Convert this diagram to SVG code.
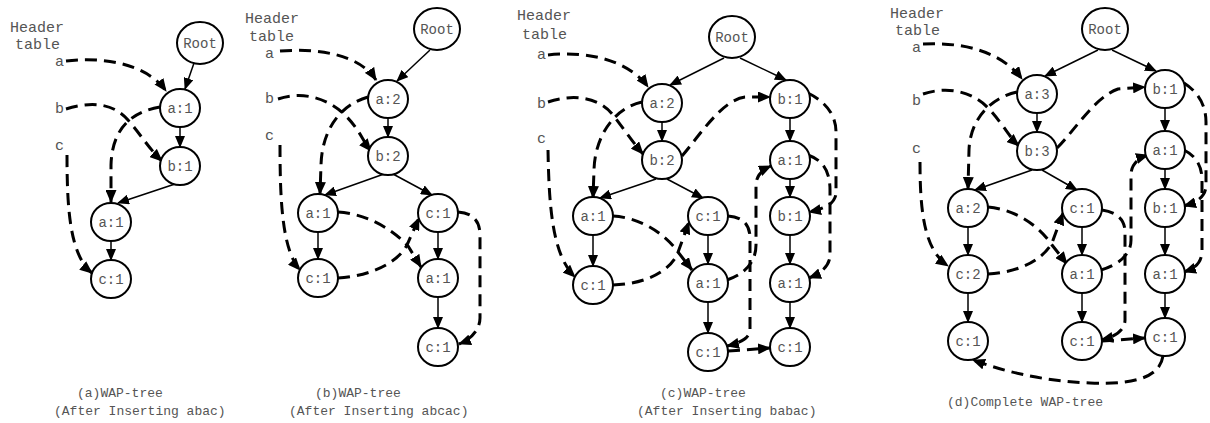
<svg xmlns="http://www.w3.org/2000/svg" width="1210" height="423" viewBox="0 0 1210 423">
<defs>
<marker id="ah" viewBox="0 0 12 10" refX="11" refY="5" markerWidth="12" markerHeight="10" markerUnits="userSpaceOnUse" orient="auto"><path d="M0,0 L12,5 L0,10 Z" fill="#000"/></marker>
<marker id="ahd" viewBox="0 0 13 11" refX="12" refY="5.5" markerWidth="13" markerHeight="11" markerUnits="userSpaceOnUse" orient="auto"><path d="M0,0 L13,5.5 L0,11 Z" fill="#000"/></marker>
</defs>
<style>
.n ellipse{fill:#fff;stroke:#000;stroke-width:2}
.n text{font-family:"Liberation Mono",monospace;font-size:14px;fill:#555;text-anchor:middle}
.t{font-family:"Liberation Mono",monospace;fill:#555}
.h{font-size:15px}
.cap{font-size:13px}
.e{fill:none;stroke:#000;stroke-width:1.5;marker-end:url(#ah)}
.d{fill:none;stroke:#000;stroke-width:3;stroke-dasharray:12 7;marker-end:url(#ahd)}
</style>
<rect width="1210" height="423" fill="#fff"/>

<g id="labels">
<text class="t h" x="10" y="32">Header</text><text class="t h" x="15" y="49">table</text>
<text class="t h" x="55" y="66">a</text><text class="t h" x="55" y="113">b</text><text class="t h" x="55" y="150">c</text>
<text class="t h" x="245" y="23">Header</text><text class="t h" x="249" y="41">table</text>
<text class="t h" x="265" y="58">a</text><text class="t h" x="265" y="103">b</text><text class="t h" x="265" y="140">c</text>
<text class="t h" x="517" y="20">Header</text><text class="t h" x="522" y="39">table</text>
<text class="t h" x="537" y="59">a</text><text class="t h" x="537" y="108">b</text><text class="t h" x="537" y="143">c</text>
<text class="t h" x="890" y="18">Header</text><text class="t h" x="895" y="35">table</text>
<text class="t h" x="912" y="52">a</text><text class="t h" x="912" y="105">b</text><text class="t h" x="912" y="153">c</text>
<text class="t cap" x="77" y="397">(a)WAP-tree</text><text class="t cap" x="54" y="415">(After Inserting abac)</text>
<text class="t cap" x="315" y="397">(b)WAP-tree</text><text class="t cap" x="289" y="415">(After Inserting abcac)</text>
<text class="t cap" x="660" y="397">(c)WAP-tree</text><text class="t cap" x="637" y="415">(After Inserting babac)</text>
<text class="t cap" x="947" y="406">(d)Complete WAP-tree</text>
</g>

<g id="connectors">
<!-- panel a -->
<path class="e" d="M194,63 L185,89"/>
<path class="e" d="M180,127 L180,147"/>
<path class="e" d="M175,184 L118,203"/>
<path class="e" d="M111,241 L111,260"/>
<path class="d" d="M66,61 C100,57 145,62 166,91"/>
<path class="d" d="M66,109 C95,100 115,105 128,120 S150,150 162,161"/>
<path class="d" d="M160,107 C130,112 112,130 111,165 L111,202"/>
<path class="d" d="M67,155 C67,210 70,255 92,273"/>
<!-- panel b -->
<path class="e" d="M430,50 L397,81"/>
<path class="e" d="M388,118 L388,137"/>
<path class="e" d="M384,174 L325,195"/>
<path class="e" d="M393,174 L432,195"/>
<path class="e" d="M318,232 L318,259"/>
<path class="e" d="M438,232 L438,259"/>
<path class="e" d="M438,297 L438,328"/>
<path class="d" d="M280,51 C320,48 360,55 376,80"/>
<path class="d" d="M278,99 C305,90 330,100 345,115 S362,140 371,151"/>
<path class="d" d="M368,97 C340,105 322,130 321,165 L320,194"/>
<path class="d" d="M280,145 C280,200 282,250 300,270"/>
<path class="d" d="M338,212 C370,214 395,232 408,246 L421,267"/>
<path class="d" d="M338,278 C372,276 398,262 407,245 L419,218"/>
<path class="d" d="M458,212 C472,213 480,220 480,235 L480,318 C480,330 470,340 459,344"/>
<!-- panel c -->
<path class="e" d="M724,58 L670,85"/>
<path class="e" d="M740,58 L786,80"/>
<path class="e" d="M662,122 L662,141"/>
<path class="e" d="M656,179 L600,198"/>
<path class="e" d="M667,179 L703,198"/>
<path class="e" d="M593,235 L593,266"/>
<path class="e" d="M708,235 L708,264"/>
<path class="e" d="M708,302 L708,333"/>
<path class="e" d="M790,118 L790,141"/>
<path class="e" d="M790,179 L790,197"/>
<path class="e" d="M790,235 L790,264"/>
<path class="e" d="M790,302 L790,328"/>
<path class="d" d="M548,55 C590,50 630,62 648,87"/>
<path class="d" d="M548,102 C575,93 600,98 613,115 S635,145 643,154"/>
<path class="d" d="M642,102 C615,108 595,135 594,170 L593,198"/>
<path class="d" d="M682,156 C700,135 722,100 745,97 L770,97"/>
<path class="d" d="M548,150 C549,205 552,255 575,277"/>
<path class="d" d="M613,216 C645,218 668,238 678,252 L692,270"/>
<path class="d" d="M613,285 C645,284 668,272 677,255 L689,222"/>
<path class="d" d="M728,216 C742,217 750,224 750,238 L750,330 C750,338 740,343 727,346"/>
<path class="d" d="M727,280 C745,274 756,262 756,245 L756,185 C756,176 762,170 771,166"/>
<path class="d" d="M728,351 L770,348"/>
<path class="d" d="M808,93 C826,102 836,115 836,132 L836,192 C836,202 828,208 809,212"/>
<path class="d" d="M808,155 C822,160 830,170 830,190 L830,255 C830,265 822,273 809,278"/>
<!-- panel d -->
<path class="e" d="M1098,50 L1045,76"/>
<path class="e" d="M1112,50 L1156,71"/>
<path class="e" d="M1037,113 L1037,132"/>
<path class="e" d="M1032,170 L975,190"/>
<path class="e" d="M1042,170 L1077,190"/>
<path class="e" d="M968,227 L968,255"/>
<path class="e" d="M968,293 L968,322"/>
<path class="e" d="M1082,227 L1082,255"/>
<path class="e" d="M1082,293 L1082,322"/>
<path class="e" d="M1165,108 L1165,131"/>
<path class="e" d="M1165,169 L1165,189"/>
<path class="e" d="M1165,227 L1165,255"/>
<path class="e" d="M1165,293 L1165,318"/>
<path class="d" d="M923,44 C960,42 1000,50 1022,79"/>
<path class="d" d="M923,94 C950,85 975,93 990,110 S1010,138 1019,146"/>
<path class="d" d="M1017,92 C990,98 970,120 969,150 L968,189"/>
<path class="d" d="M920,162 C920,215 925,250 948,266"/>
<path class="d" d="M1057,148 C1075,130 1095,97 1118,89 L1145,87"/>
<path class="d" d="M988,207 C1020,210 1042,230 1052,245 L1067,264"/>
<path class="d" d="M988,274 C1020,272 1042,260 1052,243 L1063,213"/>
<path class="d" d="M1102,210 C1115,212 1125,218 1125,232 L1125,320 C1125,330 1115,337 1101,340"/>
<path class="d" d="M1101,270 C1118,265 1131,255 1131,240 L1131,175 C1131,165 1138,158 1148,155"/>
<path class="d" d="M1102,341 L1145,338"/>
<path class="d" d="M1184,83 C1198,92 1206,105 1206,122 L1206,185 C1206,196 1198,202 1184,206"/>
<path class="d" d="M1184,150 C1196,156 1202,166 1202,180 L1202,250 C1202,262 1196,268 1184,272"/>
<path class="d" d="M1163,356 C1160,375 1140,385 1090,383 C1040,381 1000,370 973,360"/>
</g>

<g id="a-root" class="n"><ellipse cx="200" cy="43" rx="23" ry="21"/><text x="200" y="48">Root</text></g>
<g id="a-a1" class="n"><ellipse cx="180" cy="108" rx="20" ry="19"/><text x="180" y="113">a:1</text></g>
<g id="a-b1" class="n"><ellipse cx="180" cy="166" rx="20" ry="19"/><text x="180" y="171">b:1</text></g>
<g id="a-a1b" class="n"><ellipse cx="111" cy="222" rx="20" ry="19"/><text x="111" y="227">a:1</text></g>
<g id="a-c1" class="n"><ellipse cx="111" cy="279" rx="20" ry="19"/><text x="111" y="284">c:1</text></g>

<g id="b-root" class="n"><ellipse cx="437" cy="29" rx="23" ry="21"/><text x="437" y="34">Root</text></g>
<g id="b-a2" class="n"><ellipse cx="388" cy="99" rx="20" ry="19"/><text x="388" y="104">a:2</text></g>
<g id="b-b2" class="n"><ellipse cx="388" cy="156" rx="20" ry="19"/><text x="388" y="161">b:2</text></g>
<g id="b-a1" class="n"><ellipse cx="318" cy="213" rx="20" ry="19"/><text x="318" y="218">a:1</text></g>
<g id="b-c1l" class="n"><ellipse cx="318" cy="278" rx="20" ry="19"/><text x="318" y="283">c:1</text></g>
<g id="b-c1r" class="n"><ellipse cx="438" cy="213" rx="20" ry="19"/><text x="438" y="218">c:1</text></g>
<g id="b-a1r" class="n"><ellipse cx="438" cy="278" rx="20" ry="19"/><text x="438" y="283">a:1</text></g>
<g id="b-c1b" class="n"><ellipse cx="438" cy="347" rx="20" ry="19"/><text x="438" y="352">c:1</text></g>

<g id="c-root" class="n"><ellipse cx="732" cy="37" rx="23" ry="21"/><text x="732" y="42">Root</text></g>
<g id="c-a2" class="n"><ellipse cx="662" cy="103" rx="20" ry="19"/><text x="662" y="108">a:2</text></g>
<g id="c-b2" class="n"><ellipse cx="662" cy="160" rx="20" ry="19"/><text x="662" y="165">b:2</text></g>
<g id="c-a1l" class="n"><ellipse cx="593" cy="216" rx="20" ry="19"/><text x="593" y="221">a:1</text></g>
<g id="c-c1l" class="n"><ellipse cx="593" cy="285" rx="20" ry="19"/><text x="593" y="290">c:1</text></g>
<g id="c-c1m" class="n"><ellipse cx="708" cy="216" rx="20" ry="19"/><text x="708" y="221">c:1</text></g>
<g id="c-a1m" class="n"><ellipse cx="708" cy="283" rx="20" ry="19"/><text x="708" y="288">a:1</text></g>
<g id="c-c1mb" class="n"><ellipse cx="708" cy="352" rx="20" ry="19"/><text x="708" y="357">c:1</text></g>
<g id="c-b1r" class="n"><ellipse cx="790" cy="99" rx="20" ry="19"/><text x="790" y="104">b:1</text></g>
<g id="c-a1r1" class="n"><ellipse cx="790" cy="160" rx="20" ry="19"/><text x="790" y="165">a:1</text></g>
<g id="c-b1r2" class="n"><ellipse cx="790" cy="216" rx="20" ry="19"/><text x="790" y="221">b:1</text></g>
<g id="c-a1r3" class="n"><ellipse cx="790" cy="283" rx="20" ry="19"/><text x="790" y="288">a:1</text></g>
<g id="c-c1r" class="n"><ellipse cx="790" cy="347" rx="20" ry="19"/><text x="790" y="352">c:1</text></g>

<g id="d-root" class="n"><ellipse cx="1105" cy="29" rx="23" ry="21"/><text x="1105" y="34">Root</text></g>
<g id="d-a3" class="n"><ellipse cx="1037" cy="94" rx="20" ry="19"/><text x="1037" y="99">a:3</text></g>
<g id="d-b3" class="n"><ellipse cx="1037" cy="151" rx="20" ry="19"/><text x="1037" y="156">b:3</text></g>
<g id="d-a2" class="n"><ellipse cx="968" cy="208" rx="20" ry="19"/><text x="968" y="213">a:2</text></g>
<g id="d-c2" class="n"><ellipse cx="968" cy="274" rx="20" ry="19"/><text x="968" y="279">c:2</text></g>
<g id="d-c1lb" class="n"><ellipse cx="968" cy="341" rx="20" ry="19"/><text x="968" y="346">c:1</text></g>
<g id="d-c1m" class="n"><ellipse cx="1082" cy="208" rx="20" ry="19"/><text x="1082" y="213">c:1</text></g>
<g id="d-a1m" class="n"><ellipse cx="1082" cy="274" rx="20" ry="19"/><text x="1082" y="279">a:1</text></g>
<g id="d-c1mb" class="n"><ellipse cx="1082" cy="341" rx="20" ry="19"/><text x="1082" y="346">c:1</text></g>
<g id="d-b1r" class="n"><ellipse cx="1165" cy="89" rx="20" ry="19"/><text x="1165" y="94">b:1</text></g>
<g id="d-a1r1" class="n"><ellipse cx="1165" cy="150" rx="20" ry="19"/><text x="1165" y="155">a:1</text></g>
<g id="d-b1r2" class="n"><ellipse cx="1165" cy="208" rx="20" ry="19"/><text x="1165" y="213">b:1</text></g>
<g id="d-a1r3" class="n"><ellipse cx="1165" cy="274" rx="20" ry="19"/><text x="1165" y="279">a:1</text></g>
<g id="d-c1r" class="n"><ellipse cx="1165" cy="337" rx="20" ry="19"/><text x="1165" y="342">c:1</text></g>
</svg>
